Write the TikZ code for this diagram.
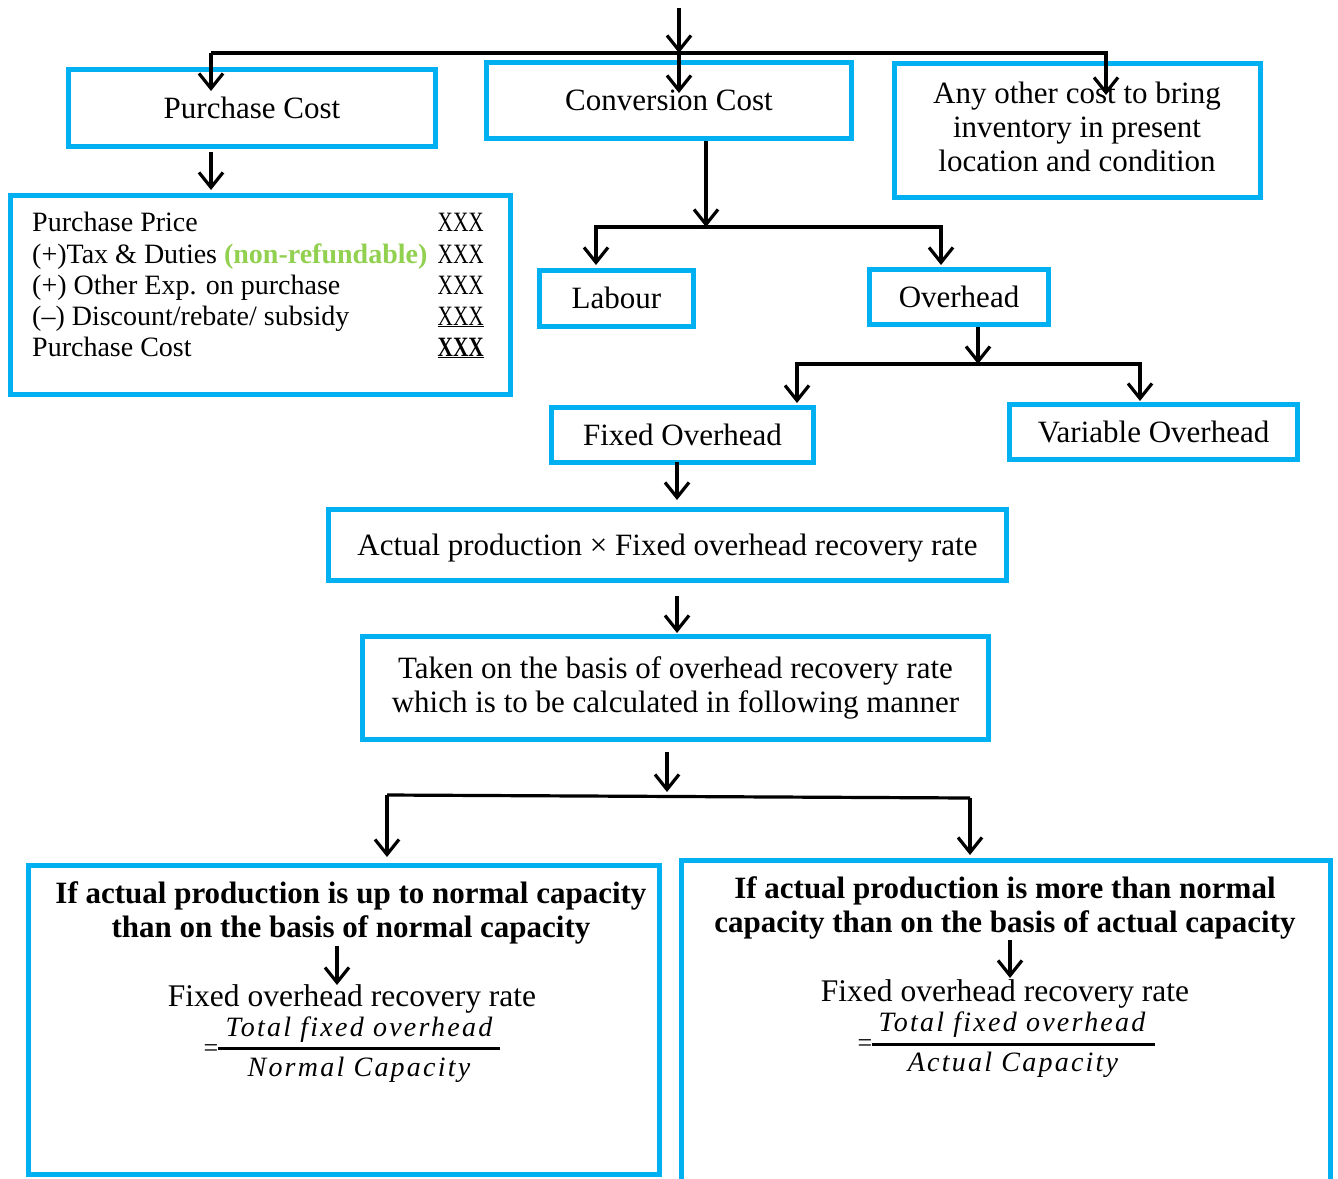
\documentclass[tikz,border=0pt]{standalone}
\usepackage{fontspec}
\usepackage{graphicx}
\setmainfont{Liberation Serif}
\newfontfamily\fracfont{Liberation Serif}[LetterSpace=8]
\usetikzlibrary{arrows.meta}
\definecolor{boxblue}{HTML}{00B0F0}
\definecolor{notegreen}{HTML}{92D050}
% narrow amount column
\newcommand{\amt}[1]{\scalebox{0.76}[1]{#1}}

\begin{document}
\begin{tikzpicture}[x=1pt,y=-1pt,
  box/.style={draw=boxblue, line width=5.5pt, inner sep=0pt, align=center,
              font=\fontsize{31}{34.5}\selectfont},
  one/.style={text height=26pt, text depth=6pt},
  lbl/.style={inner sep=0pt, font=\fontsize{28}{31}\selectfont},
  rate/.style={inner sep=0pt, font=\fontsize{31.5}{34}\selectfont},
  head/.style={inner sep=0pt, align=center, font=\fontsize{31}{34}\selectfont\bfseries},
  frac/.style={inner sep=0pt, font=\fontsize{28}{30}\selectfont\fracfont\itshape},
  eqs/.style={inner sep=0pt, font=\fontsize{26}{26}\selectfont},
  arr/.style={line width=3.2pt, -{Straight Barb[length=15pt,width=24pt,line width=3.2pt]}},
  link/.style={line width=3.2pt},
]
\useasboundingbox (0,0) rectangle (1338,1178);

% ---- first level boxes
\node[box, one, minimum width=367pt, minimum height=77pt] (pc) at (252,108) {Purchase Cost};
\node[box, one, minimum width=365pt, minimum height=76pt] (cc) at (669,100.5) {Conversion Cost};
\node[box, minimum width=366pt, minimum height=134pt] (oc) at (1077.5,130.5) {};
\node[inner sep=0pt, align=center, font=\fontsize{31}{34}\selectfont] (oct) at (1077,127)
  {Any other cost to bring\\inventory in present\\location and condition};

% ---- purchase cost statement
\node[box, minimum width=500pt, minimum height=199pt] (pl) at (260.5,295) {};
\node[lbl, anchor=base west] (p1) at (32,231) {Purchase Price};
\node[lbl, anchor=base west] (p2) at (32,263) {(+)Tax \& Duties {\bfseries\color{notegreen}(non-refundable)}};
\node[lbl, anchor=base west] (p3) at (32,294) {(+) Other Exp. on purchase};
\node[lbl, anchor=base west] (p4) at (32,325) {(--) Discount/rebate/ subsidy};
\node[lbl, anchor=base west] (p5) at (32,356) {Purchase Cost};
\node[lbl, anchor=base east] (x1) at (484,231) {\amt{XXX}};
\node[lbl, anchor=base east] (x2) at (484,263) {\amt{XXX}};
\node[lbl, anchor=base east] (x3) at (484,294) {\amt{XXX}};
\node[lbl, anchor=base east] (x4) at (484,325) {\underline{\amt{XXX}}};
\node[lbl, anchor=base east] (x5) at (484,356) {\textbf{\underline{\amt{XXX}}}};

% ---- conversion cost breakdown
\node[box, one, minimum width=154pt, minimum height=56pt] (lab) at (616.5,298.5) {Labour};
\node[box, one, minimum width=179pt, minimum height=55pt] (ovh) at (959,297) {Overhead};
\node[box, one, minimum width=262pt, minimum height=55pt] (fo) at (682.5,435) {Fixed Overhead};
\node[box, one, minimum width=288pt, minimum height=55pt] (vo) at (1153.5,432) {Variable Overhead};
\node[box, one, minimum width=678pt, minimum height=71pt] (ap) at (667.5,545)
  {Actual production × Fixed overhead recovery rate};
\node[box, minimum width=626pt, minimum height=103pt] (tb) at (675.5,688)
  {Taken on the basis of overhead recovery rate\\which is to be calculated in following manner};

% ---- two capacity cases
\node[box, minimum width=631pt, minimum height=309pt] (lb) at (344,1020) {};
\node[box, minimum width=649pt, minimum height=340pt] (rb) at (1006,1030.5) {};

\node[head] (lh) at (351,913) {If actual production is up to normal capacity\\than on the basis of normal capacity};
\node[rate] (lr) at (352,999) {Fixed overhead recovery rate};
\node[eqs] (le) at (211,1051) {=};
\node[frac] (ln) at (359,1030) {Total fixed overhead};
\node[frac] (ld) at (359,1070) {Normal Capacity};
\draw[line width=3pt] (218,1048) -- (500,1048);

\node[head] (rh) at (1005,908) {If actual production is more than normal\\capacity than on the basis of actual capacity};
\node[rate] (rr) at (1005,994) {Fixed overhead recovery rate};
\node[eqs] (re) at (865,1046) {=};
\node[frac] (rn) at (1012,1025) {Total fixed overhead};
\node[frac] (rd) at (1013,1065) {Actual Capacity};
\draw[line width=3pt] (872,1044) -- (1155,1044);

% ---- connector points
\coordinate (in0) at (679,8);
\coordinate (j0) at (679,53);
\coordinate (t1) at (211,91);
\coordinate (t2) at (679,93);
\coordinate (t3) at (1106,95);
\coordinate (pcs) at (211,152);
\coordinate (pls) at (211,190);
\coordinate (ccs) at (706,141);
\coordinate (j1) at (706,227);
\coordinate (t4) at (596,265);
\coordinate (t5) at (941,265);
\coordinate (ovs) at (978,327);
\coordinate (j2) at (978,364);
\coordinate (t6) at (797,403);
\coordinate (t7) at (1140,401);
\coordinate (fos) at (677,462);
\coordinate (apn) at (677,500);
\coordinate (aps) at (677,596);
\coordinate (tbn) at (677,633);
\coordinate (tbs) at (667,752);
\coordinate (j3) at (667,792);
\coordinate (bl) at (387,795);
\coordinate (br) at (970,798);
\coordinate (t8) at (387,857);
\coordinate (t9) at (970,855);
\coordinate (la1) at (337,946);
\coordinate (la2) at (337,985);
\coordinate (ra1) at (1010,940);
\coordinate (ra2) at (1010,978);

% ---- connectors
\draw[arr] (in0) -- (j0);
\draw[link] (211,53) -- (1108,53);
\draw[arr] (211,53) -- (t1);
\draw[arr] (j0) -- (t2);
\draw[arr] (1106,53) -- (t3);
\draw[arr] (pcs) -- (pls);

\draw[arr] (ccs) -- (j1);
\draw[arr] (j1) -| (t4);
\draw[arr] (j1) -| (t5);

\draw[arr] (ovs) -- (j2);
\draw[arr] (j2) -| (t6);
\draw[arr] (j2) -| (t7);

\draw[arr] (fos) -- (apn);
\draw[arr] (aps) -- (tbn);
\draw[arr] (tbs) -- (j3);
\draw[link] (bl) -- (br);
\draw[arr] (bl) -- (t8);
\draw[arr] (br) -- (t9);

\draw[arr] (la1) -- (la2);
\draw[arr] (ra1) -- (ra2);
\end{tikzpicture}
\end{document}
